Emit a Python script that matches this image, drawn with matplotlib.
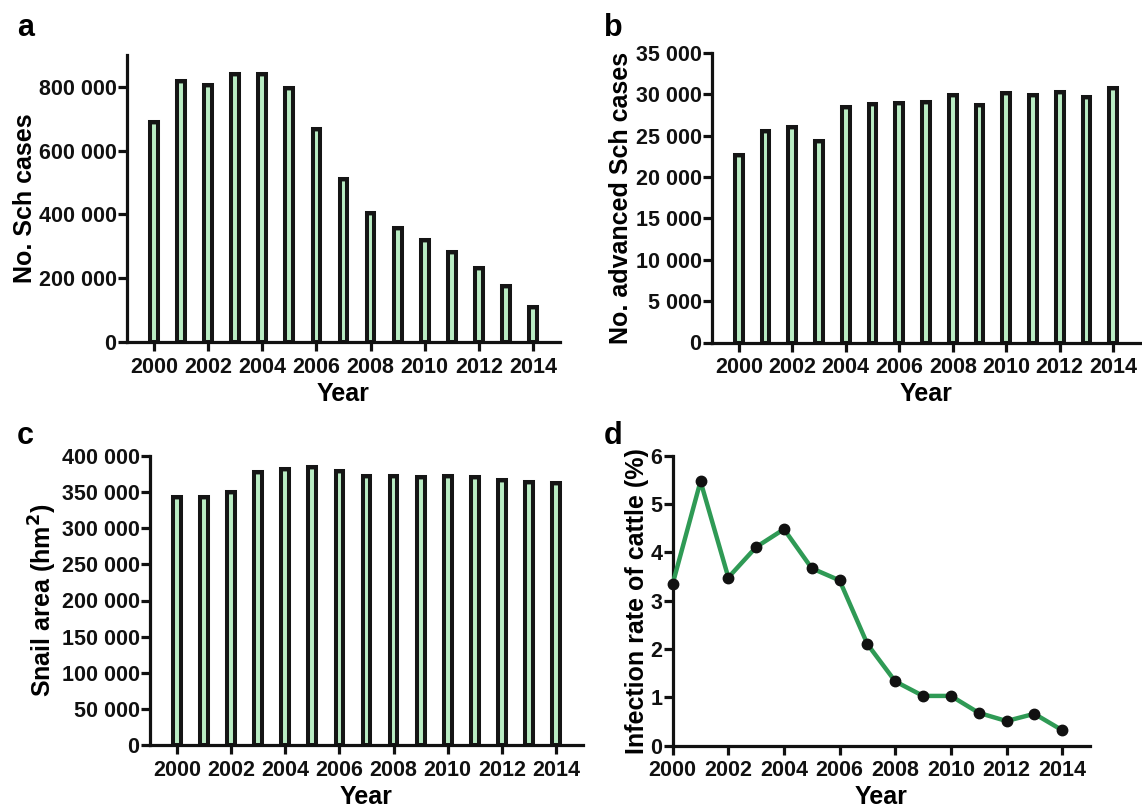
import numpy as np
import matplotlib
matplotlib.use("Agg")
import matplotlib.pyplot as plt
from matplotlib.ticker import FuncFormatter, MultipleLocator

# Данные
years = np.arange(2000, 2015)
sch_cases = [690000, 818000, 807000, 840000, 839000, 797000, 668000, 510000,
             406000, 359000, 320000, 282000, 232000, 177000, 109000]
adv_cases = [22700, 25600, 26000, 24400, 28450, 28840, 28900, 29100,
             29920, 28750, 30160, 29920, 30320, 29720, 30800]
snail_area = [343500, 342800, 350500, 377700, 382600, 385300, 379000, 372300,
              371800, 371000, 372800, 371000, 367300, 364000, 362700]
cattle_rate = [3.35, 5.47, 3.48, 4.11, 4.48, 3.67, 3.42, 2.10,
               1.33, 1.03, 1.03, 0.68, 0.51, 0.66, 0.32]

plt.rcParams['font.family'] = ['Liberation Sans', 'DejaVu Sans']
plt.rcParams['font.weight'] = 'bold'
plt.rcParams['axes.labelweight'] = 'bold'

W, H = 1142, 811
fig = plt.figure(figsize=(W / 100, H / 100), dpi=100)


def box(l, r, b, t):
    # пиксели -> доли фигуры
    return [l / W, (H - b) / H, (r - l) / W, (b - t) / H]


def space_fmt(v, pos):
    return f"{int(round(v)):,}".replace(",", " ")


def style(ax):
    for s in ['top', 'right']:
        ax.spines[s].set_visible(False)
    for s in ['left', 'bottom']:
        ax.spines[s].set_linewidth(2.3)
        ax.spines[s].set_color('#111111')
    ax.tick_params(direction='out', length=6.5, width=2.3, labelsize=15.5,
                   colors='#111111')
    ax.tick_params(axis='y', pad=1)
    ax.tick_params(axis='x', pad=4)
    ax.set_xticks(np.arange(2000, 2015, 2))
    ax.set_xlabel('Year', fontsize=18, labelpad=3)


def bars(ax, vals):
    ax.bar(years, vals, width=0.29, color='#b9ecc3', edgecolor='#151515',
           linewidth=2.9, zorder=2)
    ax.errorbar(years, vals, yerr=np.zeros(len(vals)), fmt='none',
                ecolor='#151515', capsize=2.5, capthick=2.5, zorder=3)
    ax.set_xlim(1999, 2015)


# a
ax1 = fig.add_axes(box(127, 560, 342, 55))
bars(ax1, sch_cases)
ax1.set_ylim(0, 900000)
ax1.yaxis.set_major_locator(MultipleLocator(200000))
ax1.yaxis.set_major_formatter(FuncFormatter(space_fmt))
ax1.set_ylabel('No. Sch cases', fontsize=18, labelpad=1)
style(ax1)

# b
ax2 = fig.add_axes(box(712, 1140, 342.5, 53))
bars(ax2, adv_cases)
ax2.set_ylim(0, 35000)
ax2.yaxis.set_major_locator(MultipleLocator(5000))
ax2.yaxis.set_major_formatter(FuncFormatter(space_fmt))
ax2.set_ylabel('No. advanced Sch cases', fontsize=18, labelpad=2)
style(ax2)

# c
ax3 = fig.add_axes(box(150, 583, 745, 456))
bars(ax3, snail_area)
ax3.set_ylim(0, 400000)
ax3.yaxis.set_major_locator(MultipleLocator(50000))
ax3.yaxis.set_major_formatter(FuncFormatter(space_fmt))
ax3.set_ylabel('Snail area (hm$^\\mathbf{2}$)', fontsize=18, labelpad=2)
style(ax3)

# d
ax4 = fig.add_axes(box(672.7, 1090, 745.7, 455.7))
ax4.plot(years, cattle_rate, color='#2f9a55', linewidth=3.2,
         marker='o', markersize=7.5, markerfacecolor='#111111',
         markeredgecolor='#111111', clip_on=False, zorder=3)
ax4.set_xlim(2000, 2015)
ax4.set_ylim(0, 6)
ax4.yaxis.set_major_locator(MultipleLocator(1))
ax4.set_ylabel('Infection rate of cattle (%)', fontsize=18, labelpad=1)
style(ax4)

# буквы панелей
for x, y, s in [(17, 28, 'a'), (604, 28, 'b'), (17, 436, 'c'), (604, 436, 'd')]:
    fig.text(x / W, 1 - y / H, s, fontsize=22, fontweight='bold', va='center')

plt.savefig('out.png', dpi=100)
